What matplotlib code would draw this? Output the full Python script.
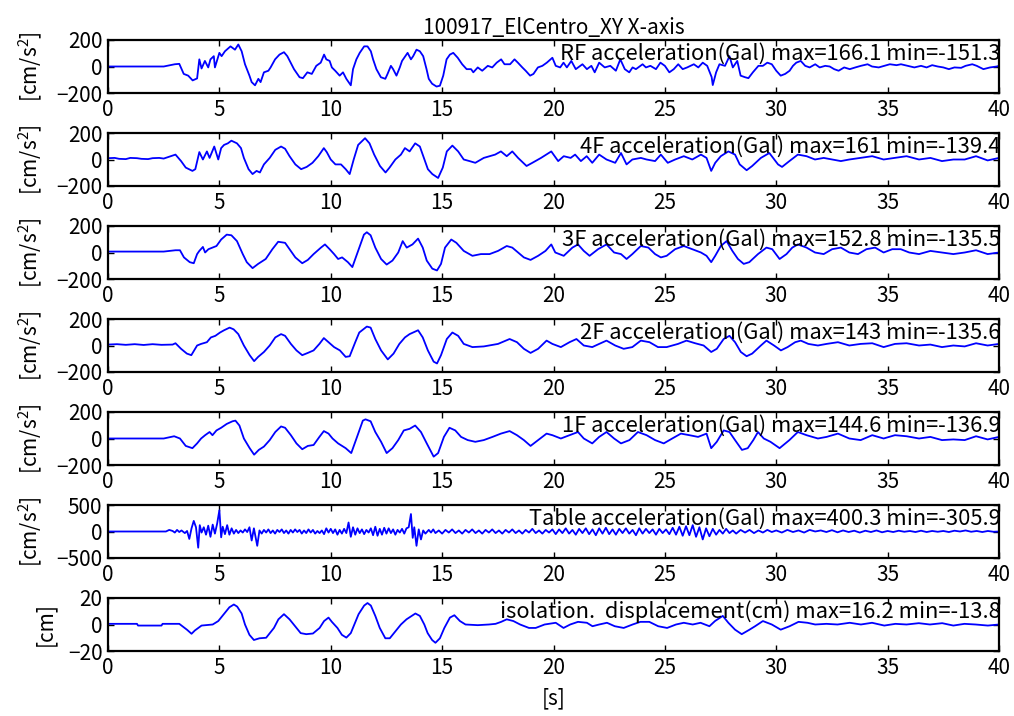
import matplotlib
matplotlib.use("Agg")
import matplotlib.pyplot as plt

plt.rcParams['font.family'] = ['Noto Sans CJK JP', 'DejaVu Sans']
plt.rcParams['mathtext.default'] = 'regular'
plt.rcParams['axes.unicode_minus'] = True

title = "100917_ElCentro_XY X-axis"
x_ticks = [0, 5, 10, 15, 20, 25, 30, 35, 40]

# ---- RF acceleration (Gal) ----
rf_t = [0.0, 2.5, 3.0, 3.2, 3.4, 3.6, 3.8, 4.0, 4.1, 4.2, 4.35, 4.5, 4.6, 4.75, 4.8, 5.0,
        5.1, 5.25, 5.5, 5.7, 5.85, 6.0, 6.15, 6.35, 6.45, 6.6, 6.75, 6.85, 7.0, 7.2, 7.3,
        7.5, 7.7, 7.9, 8.05, 8.2, 8.35, 8.45, 8.6, 8.75, 8.95, 9.15, 9.35, 9.55, 9.7, 9.8,
        9.95, 10.05, 10.2, 10.4, 10.55, 10.7, 10.9, 11.0, 11.15, 11.3, 11.5, 11.65, 11.8,
        11.9, 12.05, 12.25, 12.45, 12.55, 12.7, 12.8, 12.95, 13.1, 13.2, 13.35, 13.45, 13.6,
        13.7, 13.85, 14.0, 14.15, 14.3, 14.4, 14.55, 14.75, 14.9, 15.05, 15.2, 15.35, 15.5,
        15.7, 15.9, 16.1, 16.3, 16.4, 16.6, 16.8, 17.05, 17.25, 17.45, 17.65, 17.8, 18.05,
        18.25, 18.4, 18.6, 18.75, 18.95, 19.1, 19.3, 19.5, 19.7, 19.95, 20.1, 20.3, 20.45,
        20.6, 20.8, 21.0, 21.3, 21.5, 21.7, 21.85, 22.05, 22.3, 22.55, 22.8, 23.0, 23.2,
        23.4, 23.55, 23.7, 24.0, 24.15, 24.35, 24.6, 24.8, 25.0, 25.2, 25.4, 25.6, 25.8,
        26.0, 26.3, 26.5, 26.7, 26.9, 27.1, 27.15, 27.3, 27.45, 27.7, 27.9, 28.05, 28.25,
        28.4, 28.6, 28.75, 28.95, 29.2, 29.4, 29.6, 29.8, 30.0, 30.2, 30.4, 30.6, 30.75,
        30.9, 31.1, 31.3, 31.5, 31.75, 31.95, 32.2, 32.4, 32.6, 32.8, 33.05, 33.3, 33.55,
        33.8, 34.1, 34.3, 34.6, 34.85, 35.1, 35.4, 35.6, 35.9, 36.2, 36.5, 36.75, 37.0,
        37.25, 37.5, 37.75, 38.0, 38.3, 38.5, 38.8, 39.0, 39.3, 39.6, 39.9, 40.0]
rf_a = [0, 0, 17, 20, -56, -69, -105, -90, 54, -15, 42, -7, 54, 78, -7, 103,
        78, 115, 152, 127, 166.1, 115, 17, -69, -118, -142, -93, -118, -44, -32, -7,
        54, 90, 108, 78, 29, -20, -44, -81, -88, -44, -56, 5, 29, 90, 54,
        42, -7, -32, -69, -44, -93, -142, -20, 54, 103, 152, 152, 115,
        54, -20, -81, -93, -56, 5, -20, -69, -7, 42, 78, 103, 54,
        78, 127, 115, 78, -20, -93, -130, -151.3, -145, -69, 54, 90, 103,
        66, 17, -20, -20, -44, -7, -32, 5, -7, 29, 54, 17, 17,
        54, 29, -7, -32, -69, -56, -7, 5, 29, 66, 5, -7, 29,
        -7, 42, -20, 17, -20, 5, -44, 29, -7, 5, -32, 54, -20,
        -44, -7, -20, 17, -7, 5, -20, 29, 5, -44, -20, 17, -20,
        -7, 17, -7, 29, 5, -80, -140, -44, 17, 5, 78, -7, 42,
        -69, -81, -88, -44, 5, 5, 29, 17, -32, -69, -56, -32, 5,
        29, 42, 5, -7, 17, -7, 5, 0, -20, -32, -7, -20, -7,
        5, 17, 0, -7, 5, 17, 10, 17, 5, -7, 5, -7, 10,
        0, -7, -20, -7, -10, 5, 17, 5, -20, -7, 0, 5]

# ---- 4F acceleration (Gal) ----
f4_t = [0.0, 0.3, 0.5, 0.8, 1.0, 1.3, 1.5, 1.8, 2.0, 2.3, 2.5, 3.03, 3.28, 3.49, 3.79, 3.92,
        4.10, 4.26, 4.44, 4.56, 4.77, 4.95, 5.08, 5.21, 5.38, 5.54, 5.79, 5.97, 6.10, 6.31,
        6.49, 6.67, 6.82, 7.0, 7.26, 7.51, 7.77, 7.95, 8.15, 8.41, 8.67, 8.92, 9.18, 9.44,
        9.69, 9.82, 10.0, 10.21, 10.46, 10.67, 10.85, 11.03, 11.23, 11.54, 11.74, 11.95,
        12.21, 12.46, 12.64, 12.9, 13.15, 13.33, 13.54, 13.79, 14.0, 14.18, 14.36, 14.56,
        14.82, 15.03, 15.21, 15.46, 15.72, 15.97, 16.23, 16.49, 16.87, 17.38, 17.64, 17.9,
        18.15, 18.41, 18.79, 19.05, 19.44, 19.9, 20.21, 20.46, 20.77, 20.97, 21.23, 21.49,
        21.74, 22.05, 22.38, 22.77, 23.03, 23.28, 23.54, 23.92, 24.18, 24.56, 24.82, 25.13,
        25.46, 25.85, 26.23, 26.62, 26.87, 27.08, 27.26, 27.51, 27.85, 28.15, 28.36, 28.67,
        28.92, 29.31, 29.69, 30.08, 30.26, 30.59, 30.97, 31.36, 31.74, 32.13, 32.51, 32.9,
        33.28, 33.79, 34.31, 34.82, 35.33, 35.85, 36.41, 36.92, 37.44, 37.95, 38.46, 38.97,
        39.49, 40.0]
f4_a = [10, 12, 5, 3, 12, 10, 5, 3, 10, 12, 7, 37, -12, -61, -86, -73,
        56, 0, 61, 12, 98, 0, 86, 110, 122, 142, 122, 86, 12, -73,
        -110, -86, -98, -37, 12, 73, 98, 81, 25, -37, -73, -56, -25, 25,
        86, 56, 0, -37, -37, -73, -110, 0, 110, 161, 122, 37,
        -49, -98, -61, 0, 37, 86, 61, 122, 98, 12, -73, -110,
        -139.4, -61, 61, 105, 61, 0, -12, -25, 12, 37, 61, 25,
        61, 12, -49, -25, 12, 61, -12, 25, 12, 37, -12, 25,
        -25, 37, 0, -25, 49, -37, 0, 12, 0, -12, 37, -25,
        0, 25, 0, 37, 12, -86, -25, 25, 61, 37, -37, -81,
        -49, 12, 49, -37, -56, -12, 37, 25, 0, 12, 0, -12,
        0, 12, 25, 0, 12, 25, 0, 12, -12, 0, 0, 25,
        -7, 12]

# ---- 3F acceleration (Gal) ----
f3_t = [0.0, 2.5, 3.03, 3.23, 3.41, 3.67, 3.85, 4.0, 4.10, 4.26, 4.36, 4.51, 4.69, 4.87,
        5.08, 5.33, 5.54, 5.79, 6.05, 6.23, 6.49, 6.74, 7.08, 7.38, 7.64, 7.95, 8.15, 8.41,
        8.72, 8.97, 9.23, 9.56, 9.74, 9.95, 10.15, 10.33, 10.51, 10.77, 10.97, 11.23, 11.49,
        11.62, 11.79, 12.0, 12.26, 12.51, 12.77, 13.03, 13.23, 13.41, 13.67, 13.92, 14.13,
        14.31, 14.56, 14.77, 14.95, 15.13, 15.41, 15.64, 15.97, 16.36, 16.74, 17.13, 17.51,
        17.9, 18.15, 18.41, 18.67, 18.97, 19.31, 19.64, 19.9, 20.08, 20.46, 20.85, 21.1,
        21.36, 21.62, 22.0, 22.38, 22.72, 23.03, 23.28, 23.54, 23.92, 24.26, 24.56, 24.82,
        25.08, 25.46, 25.85, 26.23, 26.62, 26.87, 27.08, 27.26, 27.51, 27.77, 28.03, 28.28,
        28.54, 28.79, 29.18, 29.56, 29.82, 30.15, 30.46, 30.72, 30.97, 31.36, 31.74, 32.13,
        32.51, 32.9, 33.28, 33.67, 34.05, 34.44, 34.82, 35.21, 35.59, 35.97, 36.41, 36.92,
        37.44, 37.95, 38.46, 38.97, 39.49, 40.0]
f3_a = [7, 7, 17, 17, -37, -73, -81, -12, 12, 42, 0, 25, 37, 49,
        98, 135, 130, 86, -12, -73, -118, -86, -49, 25, 81, 73, 25, -37,
        -81, -56, -12, 37, 61, 25, -12, -49, -37, -73, -110, 12, 135,
        152.8, 130, 37, -49, -91, -61, 0, 86, 37, 61, 105, 37,
        -61, -122, -135.5, -86, 37, 98, 73, 12, -25, -12, -12, 12,
        49, 37, 0, -37, -56, -25, 12, 61, 0, -25, 37, 61,
        12, -25, 25, 61, 0, -12, -49, -12, 49, 37, -12, -37,
        -25, 25, 49, 25, 0, -25, -73, -25, 49, 86, 12, -49,
        -86, -73, -12, 37, 25, -49, -12, 37, 61, 37, 0, -12,
        25, 37, 0, -12, 25, 37, 0, 25, 25, 0, -12, 12,
        0, -12, 0, 17, -12, 0]

# ---- 2F acceleration (Gal) ----
f2_t = [0.0, 0.4, 0.8, 1.2, 1.6, 2.0, 2.4, 2.9, 3.03, 3.28, 3.54, 3.74, 4.0, 4.18, 4.44,
        4.62, 4.82, 5.03, 5.21, 5.46, 5.64, 5.85, 6.10, 6.36, 6.56, 6.74, 7.0, 7.26, 7.51,
        7.77, 7.95, 8.21, 8.46, 8.72, 8.97, 9.23, 9.49, 9.69, 9.9, 10.15, 10.41, 10.67,
        10.85, 11.1, 11.28, 11.62, 11.79, 12.0, 12.26, 12.56, 12.82, 13.08, 13.33, 13.54,
        13.92, 14.13, 14.36, 14.62, 14.77, 14.95, 15.21, 15.46, 15.72, 15.97, 16.36, 16.87,
        17.51, 18.03, 18.36, 18.67, 18.97, 19.31, 19.69, 19.95, 20.33, 20.72, 21.03, 21.36,
        21.74, 22.05, 22.38, 22.77, 23.15, 23.54, 23.92, 24.31, 24.69, 25.08, 25.59, 25.97,
        26.36, 26.74, 27.08, 27.33, 27.64, 27.9, 28.15, 28.41, 28.67, 28.92, 29.31, 29.56,
        29.9, 30.21, 30.51, 30.85, 31.1, 31.44, 31.87, 32.26, 32.77, 33.28, 33.79, 34.31,
        34.82, 35.33, 35.85, 36.41, 36.92, 37.44, 37.95, 38.46, 38.97, 39.49, 40.0]
f2_a = [7, 10, 5, 10, 4, 10, 5, 7, 17, -25, -61, -73, 0, 12, 25,
        61, 73, 98, 115, 135, 122, 86, 0, -73, -118, -86, -49, 0, 61,
        86, 73, 12, -37, -73, -56, -37, 12, 56, 25, -12, -37, -86,
        -81, 25, 98, 143, 135, 49, -37, -105, -61, 12, 61, 86,
        115, 61, -37, -122, -135.6, -73, 49, 98, 73, 12, -12, -7,
        12, 49, 25, -25, -56, -25, 37, 12, -12, 25, 49, 0,
        -12, 12, 37, 0, -25, -12, 37, 25, -12, -12, 12, 37,
        17, 0, -49, -25, 49, 73, 25, -49, -81, -61, 0, 37,
        0, -37, -12, 25, 37, 12, 0, 12, 25, 0, 12, 17,
        -12, 12, 17, 0, 7, -12, 0, -7, 17, 0, 12]

# ---- 1F acceleration (Gal) ----
f1_t = [0.0, 2.5, 2.97, 3.23, 3.49, 3.79, 4.0, 4.18, 4.36, 4.56, 4.69, 4.87, 5.08, 5.33,
        5.59, 5.72, 5.9, 6.10, 6.36, 6.56, 6.77, 7.0, 7.26, 7.51, 7.77, 7.95, 8.21, 8.46,
        8.72, 8.97, 9.23, 9.49, 9.69, 9.9, 10.08, 10.33, 10.67, 10.92, 11.18, 11.44, 11.56,
        11.79, 12.0, 12.26, 12.51, 12.77, 13.03, 13.28, 13.54, 13.79, 14.05, 14.31, 14.62,
        14.82, 15.08, 15.33, 15.59, 15.85, 16.15, 16.49, 16.87, 17.26, 17.64, 18.03, 18.36,
        18.67, 18.97, 19.31, 19.69, 19.95, 20.33, 20.72, 21.1, 21.36, 21.74, 22.05, 22.38,
        22.72, 23.03, 23.41, 23.79, 24.18, 24.56, 24.95, 25.33, 25.72, 26.1, 26.49, 26.87,
        27.08, 27.33, 27.64, 27.9, 28.15, 28.46, 28.72, 28.97, 29.18, 29.44, 29.74, 30.15,
        30.59, 30.97, 31.36, 31.87, 32.26, 32.77, 33.28, 33.79, 34.31, 34.82, 35.33, 35.85,
        36.41, 36.92, 37.44, 37.95, 38.46, 38.97, 39.49, 40.0]
f1_a = [0, 0, 17, 0, -56, -73, -37, 0, 25, 49, 25, 61, 81, 110,
        130, 135, 98, 0, -73, -122, -86, -61, -12, 49, 91, 81, 25, -37,
        -81, -56, -49, 12, 56, 37, 0, -37, -73, -110, 12, 135, 144.6,
        130, 49, -25, -110, -73, -12, 61, 73, 98, 49, -37, -136.9,
        -110, 12, 81, 61, 12, -12, -25, -12, 12, 37, 56, 25,
        -12, -56, -12, 37, 25, 0, 25, 49, 0, -37, 12, 49,
        0, -37, -12, 49, 25, -12, -37, 0, 37, 25, 12, 37,
        -73, -25, 61, 49, -12, -86, -73, -12, 49, 0, -25, -73,
        -12, 49, 25, 0, 12, 37, 0, -12, 25, 0, 25, 17,
        0, 12, -12, -7, -12, 17, -7, 12]

# ---- Shaking table acceleration (Gal) ----
tb_t = [0.0, 2.6, 2.75, 2.9, 3.0, 3.1, 3.2, 3.3, 3.45, 3.55, 3.65, 3.75, 3.85, 3.95, 4.05,
        4.12, 4.2, 4.3, 4.4, 4.5, 4.6, 4.7, 4.8, 4.9, 5.0, 5.08, 5.15, 5.25, 5.35, 5.45,
        5.55, 5.65, 5.75, 5.85, 5.95, 6.05, 6.15, 6.25, 6.35, 6.45, 6.55, 6.7, 6.8, 6.9, 7.0,
        7.1, 7.2, 7.3, 7.4, 7.5, 7.6, 7.7, 7.8, 7.9, 8.0, 8.1, 8.2, 8.3, 8.4, 8.5, 8.6,
        8.7, 8.8, 8.9, 9.0, 9.1, 9.2, 9.3, 9.4, 9.5, 9.6, 9.7, 9.8, 9.9, 10.0, 10.1, 10.2,
        10.3, 10.4, 10.5, 10.6, 10.7, 10.8, 10.9, 11.0, 11.1, 11.2, 11.3, 11.4, 11.5, 11.6,
        11.7, 11.8, 11.9, 12.0, 12.1, 12.2, 12.3, 12.4, 12.5, 12.6, 12.7, 12.8, 12.9, 13.0,
        13.1, 13.2, 13.3, 13.4, 13.5, 13.6, 13.68, 13.75, 13.85, 13.95, 14.05, 14.15, 14.25,
        14.4, 14.5, 14.6, 14.7, 14.85, 15.0, 15.15, 15.3, 15.45, 15.6, 15.75, 15.9, 16.05,
        16.2, 16.35, 16.5, 16.65, 16.8, 16.95, 17.1, 17.25, 17.4, 17.55, 17.7, 17.85, 18.0,
        18.15, 18.3, 18.45, 18.6, 18.75, 18.9, 19.05, 19.2, 19.35, 19.5, 19.65, 19.8, 19.95,
        20.1, 20.25, 20.4, 20.55, 20.7, 20.85, 21.0, 21.15, 21.3, 21.45, 21.6, 21.75, 21.9,
        22.05, 22.2, 22.35, 22.5, 22.65, 22.8, 22.95, 23.1, 23.25, 23.4, 23.55, 23.7, 23.85,
        24.0, 24.15, 24.3, 24.45, 24.6, 24.75, 24.9, 25.05, 25.2, 25.35, 25.5, 25.65, 25.8,
        25.95, 26.1, 26.25, 26.4, 26.55, 26.7, 26.85, 27.0, 27.15, 27.3, 27.45, 27.6, 27.75,
        27.9, 28.05, 28.2, 28.4, 28.6, 28.8, 29.0, 29.2, 29.4, 29.6, 29.8, 30.0, 30.25,
        30.5, 30.75, 31.0, 31.25, 31.5, 31.75, 32.0, 32.25, 32.5, 32.75, 33.0, 33.25, 33.5,
        33.75, 34.0, 34.25, 34.5, 34.75, 35.0, 35.25, 35.5, 35.75, 36.0, 36.25, 36.5, 36.75,
        37.0, 37.25, 37.5, 37.75, 38.0, 38.25, 38.5, 38.75, 39.0, 39.25, 39.5, 39.75, 40.0]
tb_a = [0, 0, 30, 10, -20, 30, -10, 20, -30, 10, -140, 60, 200, 80, -305.9,
        120, -20, 80, -60, 110, -100, 130, -40, 150, 400.3, -110, 90, -50, 120, -60,
        60, -40, 30, -30, 20, -20, 40, -10, 80, -170, 60, -270, 20, -40, 30,
        -20, 40, -30, 20, -40, 30, -10, 40, -30, 20, -40, 30, -20, 40, -10, 30,
        -40, 20, -30, 40, -20, 30, -40, 10, -30, 20, -50, 60, -20, 50, -30, 40,
        -60, 30, -40, 50, -30, 170, -100, 80, -60, 60, -30, 40, -50, 30,
        -20, 60, -70, 90, -80, 50, -60, 70, -40, 60, -30, 40, -60, 30,
        -20, 50, -40, 60, 80, 330, -120, 80, -270, 40, -150, 20, -40,
        30, -20, 40, -30, 20, -40, 30, -20, 40, -30, 20, -40, 30,
        -20, 40, -30, 20, -40, 30, -20, 40, -30, 20, -40, 30, -20,
        40, -30, 20, -40, 30, -20, 50, -30, 20, -40, 30, -20, 40,
        -50, 40, -30, 60, -40, 30, -60, 50, -30, 60, -50, 40, -70,
        60, -40, 70, -50, 40, -60, 50, -30, 60, -40, 30, -70, 60,
        -40, 50, -30, 40, -60, 50, -30, 40, -50, 70, -60, 90, -80,
        100, -70, 120, -100, 80, -150, 60, -90, 50, -60, 30, -40, 50,
        -30, 20, -40, 30, -20, 30, -30, 20, -20, 30, -10, 20, -20,
        30, -10, 20, -20, 30, 0, 20, -10, 25, -15, 20, -10, 15,
        -20, 15, -10, 20, -15, 10, -10, 15, -5, 10, -10, 15, -10,
        10, -5, 10, -10, 15, 0, 20, -5, 10, -10, 10, -5, 0]

# ---- Isolation layer displacement (cm) ----
ds_t = [0.0, 1.3, 1.35, 2.4, 2.45, 3.2, 3.55, 3.75, 3.9, 4.2, 4.7, 4.95, 5.2, 5.45, 5.65,
        5.8, 6.0, 6.15, 6.35, 6.55, 6.8, 7.1, 7.45, 7.65, 7.9, 8.15, 8.4, 8.65, 8.9, 9.2,
        9.5, 9.7, 9.9, 10.05, 10.3, 10.5, 10.7, 10.9, 11.25, 11.5, 11.65, 11.8, 12.0, 12.2,
        12.45, 12.65, 12.9, 13.15, 13.4, 13.8, 14.0, 14.2, 14.35, 14.55, 14.7, 14.9, 15.1,
        15.35, 15.55, 15.8, 16.05, 16.6, 17.1, 17.4, 17.65, 17.9, 18.2, 18.5, 18.9, 19.2,
        19.6, 20.1, 20.45, 20.75, 21.1, 21.5, 21.75, 22.05, 22.4, 22.75, 23.15, 23.55, 23.9,
        24.3, 24.7, 25.1, 25.5, 25.85, 26.25, 26.6, 27.0, 27.25, 27.6, 27.85, 28.15, 28.45,
        28.8, 29.05, 29.4, 29.8, 30.2, 30.6, 31.0, 31.4, 31.75, 32.25, 32.75, 33.3, 33.8,
        34.3, 34.85, 35.35, 35.85, 36.4, 36.9, 37.45, 37.95, 38.45, 38.95, 39.5, 40.0]
ds_d = [0.5, 0.5, -0.8, -0.8, 0.5, 0.5, -4, -7, -4.5, -0.8, 0, 2.6, 7.8, 13, 15.1,
        13.5, 8.3, 0, -7.8, -11.7, -10.4, -10, -2.6, 3.9, 7.8, 3.9, -1.3, -6.5, -7.3, -6.8,
        -2.6, 2.6, 5.2, 2, -2.6, -7.8, -9.9, -6.5, 7.8, 14.3, 16.2, 14.3, 6.5, -2.6,
        -10.4, -10.4, -5.2, 0, 3.9, 8.3, 6.5, 0, -6.5, -11.7, -13.8, -10.4, -2.6,
        5.2, 7, 2.6, 0, -0.5, 0, 0.5, 2, 3.9, 2.6, 0, -2.6, -2.6,
        0, 1.3, -2.6, 0, 2, 1.3, -1.3, 0, 1.3, -1.3, -2.6, 0, 2,
        2, -1.3, -2.6, 0, 1.3, 0, 1.3, -1.3, 2.6, 6.5, 1.3, -3.9, -7.3,
        -3.9, -1.3, 2.6, 0, -3.9, -1.3, 2, 1.3, 0, 0.5, 0, 1.3, 0,
        1.3, -0.8, 0.5, 0, 1, 0, 1, -0.8, 0.5, 0, -0.8, 0]

panels = [
    (rf_t, rf_a, "RF acceleration(Gal)", [-200, 0, 200], "[cm/s$^2$]"),
    (f4_t, f4_a, "4F acceleration(Gal)", [-200, 0, 200], "[cm/s$^2$]"),
    (f3_t, f3_a, "3F acceleration(Gal)", [-200, 0, 200], "[cm/s$^2$]"),
    (f2_t, f2_a, "2F acceleration(Gal)", [-200, 0, 200], "[cm/s$^2$]"),
    (f1_t, f1_a, "1F acceleration(Gal)", [-200, 0, 200], "[cm/s$^2$]"),
    (tb_t, tb_a, "Table acceleration(Gal)", [-500, 0, 500], "[cm/s$^2$]"),
    (ds_t, ds_d, "isolation.  displacement(cm)", [-20, 0, 20], "[cm]"),
]

W, H = 1014, 716
fig = plt.figure(figsize=(W / 100, H / 100), dpi=100)
ax_left, ax_w, ax_h = 108, 891, 53
ax_tops = [40, 133, 226, 319, 412, 505, 598]

for i, (t, v, name, yt, ylab) in enumerate(panels):
    ax = fig.add_axes([ax_left / W, 1 - (ax_tops[i] + ax_h) / H, ax_w / W, ax_h / H])
    ax.plot(t, v, color=(0, 0, 1), lw=1.3)
    ax.set_xlim(0, 40)
    ax.set_ylim(yt[0], yt[-1])
    ax.set_xticks(x_ticks)
    ax.set_yticks(yt)
    ax.tick_params(direction='in', top=True, right=True, length=4, width=1,
                   labelsize=15, pad=4)
    for s in ax.spines.values():
        s.set_linewidth(1.6)
    vmax, vmin = max(v), min(v)
    ax.text(1.002, 0.62, f"{name} max={vmax:g} min={vmin:g}", transform=ax.transAxes,
            ha='right', va='baseline', fontsize=15.8)
    ax.set_ylabel(ylab, fontsize=15)
    lab_right = 44 if i < 6 else 56
    ax.yaxis.set_label_coords((lab_right - ax_left) / ax_w, 0.5)
    if i == 0:
        ax.set_title(title, fontsize=15, pad=4)
    if i == 6:
        ax.set_xlabel("[s]", fontsize=15, labelpad=6)

fig.savefig("out.png", dpi=100)
